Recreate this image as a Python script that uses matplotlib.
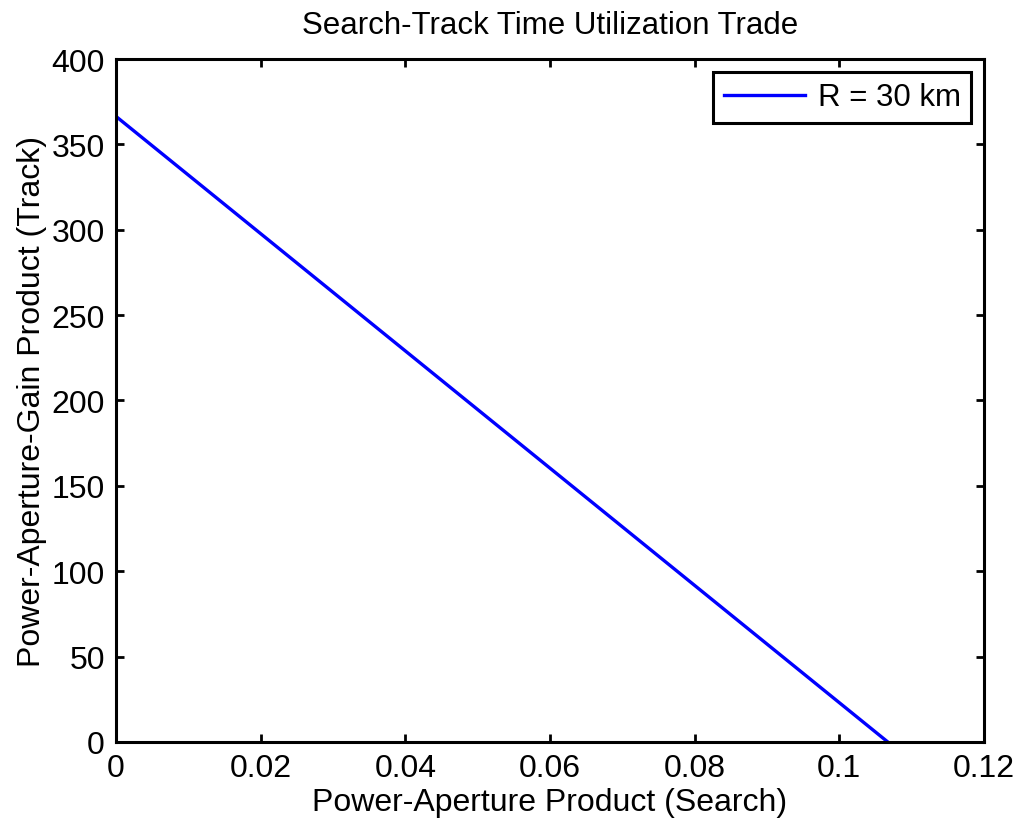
import matplotlib
matplotlib.use('Agg')
import matplotlib.pyplot as plt
import numpy as np

plt.rcParams['font.family'] = ['Liberation Sans', 'DejaVu Sans']

# values (straight line)
search_pa = [0.0, 0.1067]
track_pag = [366.4, 0.0]

xticks = [0, 0.02, 0.04, 0.06, 0.08, 0.1, 0.12]
xticklabels = ['0', '0.02', '0.04', '0.06', '0.08', '0.1', '0.12']
yticks = [0, 50, 100, 150, 200, 250, 300, 350, 400]

fig = plt.figure(figsize=(10.22, 8.28), dpi=100)
ax = fig.add_axes([0.1135, 0.1027, 0.8493, 0.8248])

ax.plot(search_pa, track_pag, color='#0000ff', linewidth=2.4, label='R = 30 km')

ax.set_xlim(0, 0.12)
ax.set_ylim(0, 400)
ax.set_xticks(xticks)
ax.set_xticklabels(xticklabels)
ax.set_yticks(yticks)
ax.tick_params(direction='in', length=6, width=2, top=True, right=True,
               labelsize=23, pad=8)
for s in ax.spines.values():
    s.set_linewidth(2.2)

ax.set_xlabel('Power-Aperture Product (Search)', fontsize=23, labelpad=3)
ax.set_ylabel('Power-Aperture-Gain Product (Track)', fontsize=23, labelpad=3)
ax.set_title('Search-Track Time Utilization Trade', fontsize=22.5, pad=19)

leg = ax.legend(loc='upper right', fontsize=22.5, fancybox=False, framealpha=1,
                edgecolor='black', handlelength=2.6, borderaxespad=0.4,
                borderpad=0.35, handletextpad=0.4)
leg.get_frame().set_linewidth(2.2)

fig.savefig('out.png', dpi=100)
